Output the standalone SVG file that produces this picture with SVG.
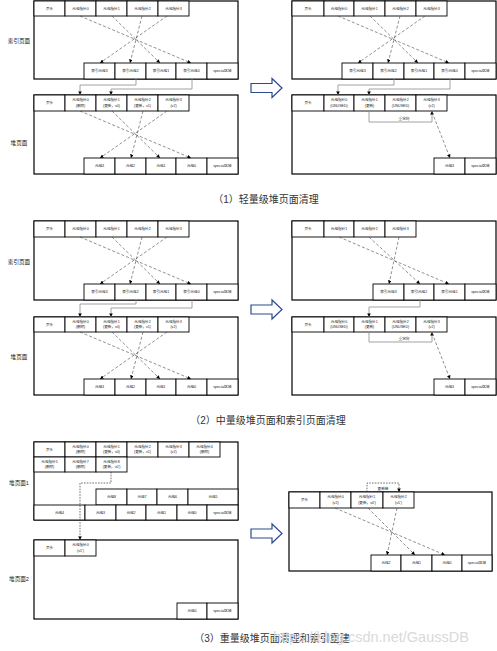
<svg xmlns="http://www.w3.org/2000/svg" width="497" height="651" viewBox="0 0 497 651">
<style>
.pg{fill:none;stroke:#000;stroke-width:1.2}
.c{fill:#fff;stroke:#000;stroke-width:0.9}
.t{font-family:"Liberation Sans","Noto Sans CJK SC",sans-serif;font-size:3.6px;fill:#222;text-anchor:middle}
.lb{font-family:"Liberation Sans","Noto Sans CJK SC",sans-serif;font-size:5.6px;fill:#222;text-anchor:middle}
.cap{font-family:"Liberation Sans","Noto Sans CJK SC",sans-serif;font-size:10px;fill:#333;text-anchor:middle}
.wm{font-family:"Liberation Sans",sans-serif;font-size:14.5px;fill:#d9d9d9}
.dl{fill:none;stroke:#444;stroke-width:0.6;stroke-dasharray:3 2;marker-end:url(#ah)}
.dk{fill:none;stroke:#333;stroke-width:0.7;stroke-dasharray:1.6 1.2;marker-end:url(#ah)}
.sl{fill:none;stroke:#8c8c8c;stroke-width:0.8;marker-end:url(#ah)}
.ba{fill:#fff;stroke:#2e4a8e;stroke-width:1.2}
</style>
<defs>
<marker id="ah" viewBox="0 0 6 6" refX="6" refY="3" markerWidth="3.6" markerHeight="3.6" orient="auto" markerUnits="userSpaceOnUse"><path d="M0,0L6,3L0,6z" fill="#000"/></marker>
</defs>
<rect x="0" y="0" width="497" height="651" fill="#fff"/>

<!-- ===== Section 1 left ===== -->
<g id="s1l-index-page"><rect class="pg" x="34" y="1" width="204" height="78"/><text class="lb" x="19" y="43">索引页面</text></g>
<g id="s1l-i-head"><rect class="c" x="34" y="1" width="31" height="15"/><text class="t" x="49.5" y="9.8">页头</text></g>
<g id="s1l-i-p0"><rect class="c" x="65" y="1" width="31" height="15"/><text class="t" x="80.5" y="9.8">元组指针0</text></g>
<g id="s1l-i-p1"><rect class="c" x="96" y="1" width="31" height="15"/><text class="t" x="111.5" y="9.8">元组指针1</text></g>
<g id="s1l-i-p2"><rect class="c" x="127" y="1" width="31" height="15"/><text class="t" x="142.5" y="9.8">元组指针2</text></g>
<g id="s1l-i-p3"><rect class="c" x="158" y="1" width="31" height="15"/><text class="t" x="173.5" y="9.8">元组指针3</text></g>
<g id="s1l-i-t3"><rect class="c" x="84" y="63" width="31" height="16"/><text class="t" x="99.5" y="72.3">索引元组3</text></g>
<g id="s1l-i-t2"><rect class="c" x="115" y="63" width="31" height="16"/><text class="t" x="130.5" y="72.3">索引元组2</text></g>
<g id="s1l-i-t1"><rect class="c" x="146" y="63" width="30" height="16"/><text class="t" x="161" y="72.3">索引元组1</text></g>
<g id="s1l-i-t0"><rect class="c" x="176" y="63" width="31" height="16"/><text class="t" x="191.5" y="72.3">索引元组0</text></g>
<g id="s1l-i-sp"><rect class="c" x="207" y="63" width="31" height="16"/><text class="t" x="222.5" y="72.3">special区域</text></g>

<g id="s1l-heap-page"><rect class="pg" x="34" y="95" width="204" height="79"/><text class="lb" x="19" y="145">堆页面</text></g>
<g id="s1l-h-head"><rect class="c" x="34" y="95" width="31" height="16"/><text class="t" x="49.5" y="104.3">页头</text></g>
<g id="s1l-h-p0"><rect class="c" x="65" y="95" width="31" height="16"/><text class="t" x="80.5" y="101.3">元组指针0</text><text class="t" x="80.5" y="106.5">(删除)</text></g>
<g id="s1l-h-p1"><rect class="c" x="96" y="95" width="31" height="16"/><text class="t" x="111.5" y="101.3">元组指针1</text><text class="t" x="111.5" y="106.5">(更新，v0)</text></g>
<g id="s1l-h-p2"><rect class="c" x="127" y="95" width="31" height="16"/><text class="t" x="142.5" y="101.3">元组指针2</text><text class="t" x="142.5" y="106.5">(更新，v1)</text></g>
<g id="s1l-h-p3"><rect class="c" x="158" y="95" width="31" height="16"/><text class="t" x="173.5" y="101.3">元组指针3</text><text class="t" x="173.5" y="106.5">(v2)</text></g>
<g id="s1l-h-t3"><rect class="c" x="84" y="158" width="31" height="16"/><text class="t" x="99.5" y="167.3">元组3</text></g>
<g id="s1l-h-t2"><rect class="c" x="115" y="158" width="31" height="16"/><text class="t" x="130.5" y="167.3">元组2</text></g>
<g id="s1l-h-t1"><rect class="c" x="146" y="158" width="30" height="16"/><text class="t" x="161" y="167.3">元组1</text></g>
<g id="s1l-h-t0"><rect class="c" x="176" y="158" width="31" height="16"/><text class="t" x="191.5" y="167.3">元组0</text></g>
<g id="s1l-h-sp"><rect class="c" x="207" y="158" width="31" height="16"/><text class="t" x="222.5" y="167.3">special区域</text></g>

<!-- ===== Section 1 right ===== -->
<g id="s1r-index-page"><rect class="pg" x="292" y="1" width="204" height="78"/></g>
<g id="s1r-i-head"><rect class="c" x="292" y="1" width="32" height="15"/><text class="t" x="308" y="9.8">页头</text></g>
<g id="s1r-i-p0"><rect class="c" x="324" y="1" width="30" height="15"/><text class="t" x="339" y="9.8">元组指针0</text></g>
<g id="s1r-i-p1"><rect class="c" x="354" y="1" width="31" height="15"/><text class="t" x="369.5" y="9.8">元组指针1</text></g>
<g id="s1r-i-p2"><rect class="c" x="385" y="1" width="31" height="15"/><text class="t" x="400.5" y="9.8">元组指针2</text></g>
<g id="s1r-i-p3"><rect class="c" x="416" y="1" width="31" height="15"/><text class="t" x="431.5" y="9.8">元组指针3</text></g>
<g id="s1r-i-t3"><rect class="c" x="342" y="63" width="31" height="16"/><text class="t" x="357.5" y="72.3">索引元组3</text></g>
<g id="s1r-i-t2"><rect class="c" x="373" y="63" width="31" height="16"/><text class="t" x="388.5" y="72.3">索引元组2</text></g>
<g id="s1r-i-t1"><rect class="c" x="404" y="63" width="30" height="16"/><text class="t" x="419" y="72.3">索引元组1</text></g>
<g id="s1r-i-t0"><rect class="c" x="434" y="63" width="31" height="16"/><text class="t" x="449.5" y="72.3">索引元组0</text></g>
<g id="s1r-i-sp"><rect class="c" x="465" y="63" width="31" height="16"/><text class="t" x="480.5" y="72.3">special区域</text></g>

<g id="s1r-heap-page"><rect class="pg" x="292" y="95" width="204" height="79"/></g>
<g id="s1r-h-head"><rect class="c" x="292" y="95" width="32" height="16"/><text class="t" x="308" y="104.3">页头</text></g>
<g id="s1r-h-p0"><rect class="c" x="324" y="95" width="30" height="16"/><text class="t" x="339" y="101.3">元组指针0</text><text class="t" x="339" y="106.5">(UNUSED)</text></g>
<g id="s1r-h-p1"><rect class="c" x="354" y="95" width="31" height="16"/><text class="t" x="369.5" y="101.3">元组指针1</text><text class="t" x="369.5" y="106.5">(更新)</text></g>
<g id="s1r-h-p2"><rect class="c" x="385" y="95" width="31" height="16"/><text class="t" x="400.5" y="101.3">元组指针2</text><text class="t" x="400.5" y="106.5">(UNUSED)</text></g>
<g id="s1r-h-p3"><rect class="c" x="416" y="95" width="31" height="16"/><text class="t" x="431.5" y="101.3">元组指针3</text><text class="t" x="431.5" y="106.5">(v2)</text></g>
<g id="s1r-h-t3"><rect class="c" x="434" y="158" width="31" height="16"/><text class="t" x="449.5" y="167.3">元组3</text></g>
<g id="s1r-h-sp"><rect class="c" x="465" y="158" width="31" height="16"/><text class="t" x="480.5" y="167.3">special区域</text></g>

<g id="arrow1"><path class="ba" d="M251,83.5H272V78.5L282,88L272,97.5V92.5H251Z"/></g>
<text class="cap" x="266" y="202.5">（1）轻量级堆页面清理</text>

<!-- ===== Section 2 left ===== -->
<g id="s2l-index-page"><rect class="pg" x="34" y="221" width="204" height="79"/><text class="lb" x="19" y="264">索引页面</text></g>
<g id="s2l-i-head"><rect class="c" x="34" y="221" width="31" height="16"/><text class="t" x="49.5" y="230.3">页头</text></g>
<g id="s2l-i-p0"><rect class="c" x="65" y="221" width="31" height="16"/><text class="t" x="80.5" y="230.3">元组指针0</text></g>
<g id="s2l-i-p1"><rect class="c" x="96" y="221" width="31" height="16"/><text class="t" x="111.5" y="230.3">元组指针1</text></g>
<g id="s2l-i-p2"><rect class="c" x="127" y="221" width="31" height="16"/><text class="t" x="142.5" y="230.3">元组指针2</text></g>
<g id="s2l-i-p3"><rect class="c" x="158" y="221" width="31" height="16"/><text class="t" x="173.5" y="230.3">元组指针3</text></g>
<g id="s2l-i-t3"><rect class="c" x="84" y="284" width="31" height="16"/><text class="t" x="99.5" y="293.3">索引元组3</text></g>
<g id="s2l-i-t2"><rect class="c" x="115" y="284" width="31" height="16"/><text class="t" x="130.5" y="293.3">索引元组2</text></g>
<g id="s2l-i-t1"><rect class="c" x="146" y="284" width="30" height="16"/><text class="t" x="161" y="293.3">索引元组1</text></g>
<g id="s2l-i-t0"><rect class="c" x="176" y="284" width="31" height="16"/><text class="t" x="191.5" y="293.3">索引元组0</text></g>
<g id="s2l-i-sp"><rect class="c" x="207" y="284" width="31" height="16"/><text class="t" x="222.5" y="293.3">special区域</text></g>

<g id="s2l-heap-page"><rect class="pg" x="34" y="317" width="204" height="78"/><text class="lb" x="19" y="359">堆页面</text></g>
<g id="s2l-h-head"><rect class="c" x="34" y="317" width="31" height="15"/><text class="t" x="49.5" y="325.8">页头</text></g>
<g id="s2l-h-p0"><rect class="c" x="65" y="317" width="31" height="15"/><text class="t" x="80.5" y="322.8">元组指针0</text><text class="t" x="80.5" y="328">(删除)</text></g>
<g id="s2l-h-p1"><rect class="c" x="96" y="317" width="31" height="15"/><text class="t" x="111.5" y="322.8">元组指针1</text><text class="t" x="111.5" y="328">(更新，v0)</text></g>
<g id="s2l-h-p2"><rect class="c" x="127" y="317" width="31" height="15"/><text class="t" x="142.5" y="322.8">元组指针2</text><text class="t" x="142.5" y="328">(更新，v1)</text></g>
<g id="s2l-h-p3"><rect class="c" x="158" y="317" width="31" height="15"/><text class="t" x="173.5" y="322.8">元组指针3</text><text class="t" x="173.5" y="328">(v2)</text></g>
<g id="s2l-h-t3"><rect class="c" x="84" y="379" width="31" height="16"/><text class="t" x="99.5" y="388.3">元组3</text></g>
<g id="s2l-h-t2"><rect class="c" x="115" y="379" width="31" height="16"/><text class="t" x="130.5" y="388.3">元组2</text></g>
<g id="s2l-h-t1"><rect class="c" x="146" y="379" width="30" height="16"/><text class="t" x="161" y="388.3">元组1</text></g>
<g id="s2l-h-t0"><rect class="c" x="176" y="379" width="31" height="16"/><text class="t" x="191.5" y="388.3">元组0</text></g>
<g id="s2l-h-sp"><rect class="c" x="207" y="379" width="31" height="16"/><text class="t" x="222.5" y="388.3">special区域</text></g>

<!-- ===== Section 2 right ===== -->
<g id="s2r-index-page"><rect class="pg" x="292" y="221" width="204" height="79"/></g>
<g id="s2r-i-head"><rect class="c" x="292" y="221" width="32" height="16"/><text class="t" x="308" y="230.3">页头</text></g>
<g id="s2r-i-p1"><rect class="c" x="324" y="221" width="30" height="16"/><text class="t" x="339" y="230.3">元组指针1</text></g>
<g id="s2r-i-p2"><rect class="c" x="354" y="221" width="31" height="16"/><text class="t" x="369.5" y="230.3">元组指针2</text></g>
<g id="s2r-i-p3"><rect class="c" x="385" y="221" width="31" height="16"/><text class="t" x="400.5" y="230.3">元组指针3</text></g>
<g id="s2r-i-t3"><rect class="c" x="373" y="284" width="31" height="16"/><text class="t" x="388.5" y="293.3">索引元组3</text></g>
<g id="s2r-i-t2"><rect class="c" x="404" y="284" width="30" height="16"/><text class="t" x="419" y="293.3">索引元组2</text></g>
<g id="s2r-i-t1"><rect class="c" x="434" y="284" width="31" height="16"/><text class="t" x="449.5" y="293.3">索引元组1</text></g>
<g id="s2r-i-sp"><rect class="c" x="465" y="284" width="31" height="16"/><text class="t" x="480.5" y="293.3">special区域</text></g>

<g id="s2r-heap-page"><rect class="pg" x="292" y="317" width="204" height="78"/></g>
<g id="s2r-h-head"><rect class="c" x="292" y="317" width="32" height="15"/><text class="t" x="308" y="325.8">页头</text></g>
<g id="s2r-h-p0"><rect class="c" x="324" y="317" width="30" height="15"/><text class="t" x="339" y="322.8">元组指针0</text><text class="t" x="339" y="328">(UNUSED)</text></g>
<g id="s2r-h-p1"><rect class="c" x="354" y="317" width="31" height="15"/><text class="t" x="369.5" y="322.8">元组指针1</text><text class="t" x="369.5" y="328">(更新)</text></g>
<g id="s2r-h-p2"><rect class="c" x="385" y="317" width="31" height="15"/><text class="t" x="400.5" y="322.8">元组指针2</text><text class="t" x="400.5" y="328">(UNUSED)</text></g>
<g id="s2r-h-p3"><rect class="c" x="416" y="317" width="31" height="15"/><text class="t" x="431.5" y="322.8">元组指针3</text><text class="t" x="431.5" y="328">(v2)</text></g>
<g id="s2r-h-t3"><rect class="c" x="434" y="379" width="31" height="16"/><text class="t" x="449.5" y="388.3">元组3</text></g>
<g id="s2r-h-sp"><rect class="c" x="465" y="379" width="31" height="16"/><text class="t" x="480.5" y="388.3">special区域</text></g>

<g id="arrow2"><path class="ba" d="M251,305H272V300L282,309.5L272,319V314H251Z"/></g>
<text class="cap" x="268" y="423.5">（2）中量级堆页面和索引页面清理</text>

<!-- ===== Section 3 left ===== -->
<g id="s3l-heap-page1"><rect class="pg" x="34" y="442" width="204" height="78"/><text class="lb" x="19" y="485">堆页面1</text></g>
<g id="s3l-h-head"><rect class="c" x="34" y="442" width="31" height="15"/><text class="t" x="49.5" y="450.8">页头</text></g>
<g id="s3l-h-p0"><rect class="c" x="65" y="442" width="31" height="15"/><text class="t" x="80.5" y="447.8">元组指针0</text><text class="t" x="80.5" y="453">(删除)</text></g>
<g id="s3l-h-p1"><rect class="c" x="96" y="442" width="31" height="15"/><text class="t" x="111.5" y="447.8">元组指针1</text><text class="t" x="111.5" y="453">(更新，v0)</text></g>
<g id="s3l-h-p2"><rect class="c" x="127" y="442" width="31" height="15"/><text class="t" x="142.5" y="447.8">元组指针2</text><text class="t" x="142.5" y="453">(更新，v1)</text></g>
<g id="s3l-h-p3"><rect class="c" x="158" y="442" width="31" height="15"/><text class="t" x="173.5" y="447.8">元组指针3</text><text class="t" x="173.5" y="453">(v2)</text></g>
<g id="s3l-h-p4"><rect class="c" x="189" y="442" width="31" height="15"/><text class="t" x="204.5" y="447.8">元组指针4</text><text class="t" x="204.5" y="453">(删除)</text></g>
<g id="s3l-h-p5"><rect class="c" x="34" y="457" width="31" height="15"/><text class="t" x="49.5" y="462.8">元组指针5</text><text class="t" x="49.5" y="468">(删除)</text></g>
<g id="s3l-h-p7"><rect class="c" x="65" y="457" width="31" height="15"/><text class="t" x="80.5" y="462.8">元组指针7</text><text class="t" x="80.5" y="468">(删除)</text></g>
<g id="s3l-h-p8"><rect class="c" x="96" y="457" width="31" height="15"/><text class="t" x="111.5" y="462.8">元组指针8</text><text class="t" x="111.5" y="468">(更新，v0')</text></g>
<g id="s3l-h-t8"><rect class="c" x="96" y="489" width="31" height="16"/><text class="t" x="111.5" y="498.3">元组8</text></g>
<g id="s3l-h-t7"><rect class="c" x="127" y="489" width="30" height="16"/><text class="t" x="142" y="498.3">元组7</text></g>
<g id="s3l-h-t6"><rect class="c" x="157" y="489" width="31" height="16"/><text class="t" x="172.5" y="498.3">元组6</text></g>
<g id="s3l-h-t5"><rect class="c" x="188" y="489" width="50" height="16"/><text class="t" x="213" y="498.3">元组5</text></g>
<g id="s3l-h-t4"><rect class="c" x="34" y="505" width="51" height="15"/><text class="t" x="59.5" y="513.8">元组4</text></g>
<g id="s3l-h-t3"><rect class="c" x="85" y="505" width="31" height="15"/><text class="t" x="100.5" y="513.8">元组3</text></g>
<g id="s3l-h-t2"><rect class="c" x="116" y="505" width="30" height="15"/><text class="t" x="131" y="513.8">元组2</text></g>
<g id="s3l-h-t1"><rect class="c" x="146" y="505" width="31" height="15"/><text class="t" x="161.5" y="513.8">元组1</text></g>
<g id="s3l-h-t0"><rect class="c" x="177" y="505" width="30" height="15"/><text class="t" x="192" y="513.8">元组0</text></g>
<g id="s3l-h-sp"><rect class="c" x="207" y="505" width="31" height="15"/><text class="t" x="222.5" y="513.8">special区域</text></g>

<g id="s3l-heap-page2"><rect class="pg" x="34" y="540" width="204" height="79"/><text class="lb" x="19" y="581">堆页面2</text></g>
<g id="s3l-h2-head"><rect class="c" x="34" y="540" width="31" height="16"/><text class="t" x="49.5" y="549.3">页头</text></g>
<g id="s3l-h2-p0"><rect class="c" x="65" y="540" width="31" height="16"/><text class="t" x="80.5" y="546.3">元组指针0</text><text class="t" x="80.5" y="551.5">(v1')</text></g>
<g id="s3l-h2-t0"><rect class="c" x="177" y="603" width="30" height="16"/><text class="t" x="192" y="612.3">元组0</text></g>
<g id="s3l-h2-sp"><rect class="c" x="207" y="603" width="31" height="16"/><text class="t" x="222.5" y="612.3">special区域</text></g>

<!-- ===== Section 3 right ===== -->
<g id="s3r-heap-page"><rect class="pg" x="289" y="492" width="203" height="79"/></g>
<g id="s3r-h-head"><rect class="c" x="289" y="492" width="31" height="16"/><text class="t" x="304.5" y="501.3">页头</text></g>
<g id="s3r-h-p0"><rect class="c" x="320" y="492" width="31" height="16"/><text class="t" x="335.5" y="498.3">元组指针0</text><text class="t" x="335.5" y="503.5">(v2)</text></g>
<g id="s3r-h-p1"><rect class="c" x="351" y="492" width="32" height="16"/><text class="t" x="367" y="498.3">元组指针1</text><text class="t" x="367" y="503.5">(更新，v0')</text></g>
<g id="s3r-h-p2"><rect class="c" x="383" y="492" width="31" height="16"/><text class="t" x="398.5" y="498.3">元组指针2</text><text class="t" x="398.5" y="503.5">(v1')</text></g>
<g id="s3r-h-t2"><rect class="c" x="371" y="555" width="30" height="16"/><text class="t" x="386" y="564.3">元组2</text></g>
<g id="s3r-h-t1"><rect class="c" x="401" y="555" width="31" height="16"/><text class="t" x="416.5" y="564.3">元组1</text></g>
<g id="s3r-h-t0"><rect class="c" x="432" y="555" width="30" height="16"/><text class="t" x="447" y="564.3">元组0</text></g>
<g id="s3r-h-sp"><rect class="c" x="462" y="555" width="30" height="16"/><text class="t" x="477" y="564.3">special区域</text></g>

<g id="arrow3"><path class="ba" d="M251,529H272V524L282,533.5L272,543V538H251Z"/></g>
<text class="cap" x="272" y="641.5">（3）重量级堆页面清理和索引重建</text>
<text class="wm" x="273" y="642">https://blog.csdn.net/GaussDB</text>

<!-- ===== Connectors ===== -->
<g id="connectors">
<path class="dl" d="M80,16L191,63"/>
<path class="dl" d="M112,16L160,63"/>
<path class="dl" d="M142,16L130,63"/>
<path class="dl" d="M167,16L100,63"/>
<path class="sl" d="M136,79V85H80V95"/>
<path class="sl" d="M192,79V89H111V95"/>
<path class="dl" d="M80,111L191,158"/>
<path class="dl" d="M112,111L160,158"/>
<path class="dl" d="M143,111L131,158"/>
<path class="dl" d="M167,111L100,158"/>

<path class="dl" d="M338,16L449,63"/>
<path class="dl" d="M370,16L418,63"/>
<path class="dl" d="M400,16L388,63"/>
<path class="dl" d="M425,16L358,63"/>
<path class="sl" d="M394,79V85H338V95"/>
<path class="sl" d="M450,79V89H369V95"/>
<path class="sl" d="M369,111V122H432V111"/>
<text class="t" x="404" y="119.5">重定向</text>
<path class="dl" d="M432,112L450,158"/>

<path class="dl" d="M80,237L191,284"/>
<path class="dl" d="M112,237L160,284"/>
<path class="dl" d="M142,237L130,284"/>
<path class="dl" d="M167,237L100,284"/>
<path class="sl" d="M136,300V304H80V317"/>
<path class="sl" d="M192,300V308H111V317"/>
<path class="dl" d="M80,332L191,379"/>
<path class="dl" d="M112,332L160,379"/>
<path class="dl" d="M143,332L131,379"/>
<path class="dl" d="M167,332L100,379"/>

<path class="dl" d="M339,237L449,284"/>
<path class="dl" d="M369,237L420,284"/>
<path class="dl" d="M399,237L389,284"/>
<path class="sl" d="M420,300V307H369V317"/>
<path class="sl" d="M369,332V342H432V332"/>
<text class="t" x="404" y="339.5">重定向</text>
<path class="dl" d="M432,333L450,379"/>

<path class="dk" d="M111,472V483H80V540"/>

<path class="dk" d="M367,492V483H399V492"/>
<text class="t" x="383" y="489.5">更新链</text>
<path class="dl" d="M335,508L445,555"/>
<path class="dl" d="M368,508L415,555"/>
<path class="dl" d="M397,508L387,555"/>
</g>
</svg>
